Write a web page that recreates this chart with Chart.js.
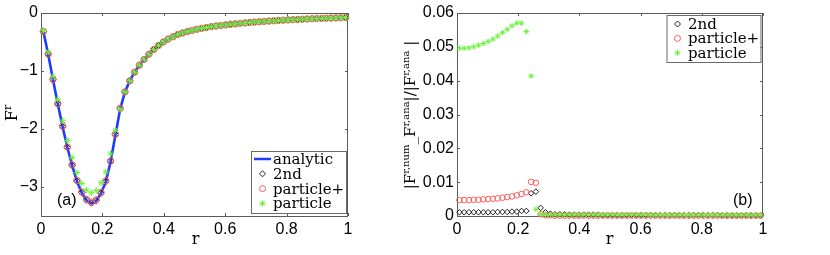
<!DOCTYPE html>
<html>
<head>
<meta charset="utf-8">
<script src="https://cdn.jsdelivr.net/npm/chart.js@4.4.0/dist/chart.umd.min.js"></script>
<style>
  html, body { margin: 0; padding: 0; background: #fff; }
  #wrap { position: relative; width: 830px; height: 255px; overflow: hidden; }
  canvas { position: absolute; top: 0; }
</style>
</head>
<body>
<div id="wrap">
  <canvas id="chartA" width="395" height="255" style="left:0px"></canvas>
  <canvas id="chartB" width="435" height="255" style="left:395px"></canvas>
</div>
<script>
// --- data ---
const rValues = [0.0078, 0.0234, 0.0391, 0.0547, 0.0703, 0.0859, 0.1016, 0.1172, 0.1328, 0.1484,
  0.1641, 0.1797, 0.1953, 0.2109, 0.2266, 0.2422, 0.2578, 0.2734, 0.2891, 0.3047,
  0.3203, 0.3359, 0.3516, 0.3672, 0.3828, 0.3984, 0.4141, 0.4297, 0.4453, 0.4609,
  0.4766, 0.4922, 0.5078, 0.5234, 0.5391, 0.5547, 0.5703, 0.5859, 0.6016, 0.6172,
  0.6328, 0.6484, 0.6641, 0.6797, 0.6953, 0.7109, 0.7266, 0.7422, 0.7578, 0.7734,
  0.7891, 0.8047, 0.8203, 0.8359, 0.8516, 0.8672, 0.8828, 0.8984, 0.9141, 0.9297,
  0.9453, 0.9609, 0.9766, 0.9922];

// (a) force F^r
const analyticF = [-0.32, -0.71, -1.15, -1.57, -1.96, -2.32, -2.63, -2.90, -3.10, -3.23,
  -3.28, -3.24, -3.11, -2.91, -2.57, -2.11, -1.66, -1.36, -1.17, -1.02,
  -0.90, -0.80, -0.71, -0.63, -0.56, -0.50, -0.45, -0.41, -0.37, -0.345,
  -0.32, -0.30, -0.28, -0.265, -0.25, -0.235, -0.225, -0.215, -0.205, -0.195,
  -0.187, -0.179, -0.171, -0.164, -0.157, -0.151, -0.145, -0.139, -0.134, -0.129,
  -0.124, -0.119, -0.115, -0.111, -0.107, -0.103, -0.099, -0.096, -0.093, -0.090,
  -0.087, -0.084, -0.081, -0.078];
const secondF = [-0.32, -0.709, -1.149, -1.568, -1.958, -2.317, -2.627, -2.897, -3.096, -3.226,
  -3.276, -3.236, -3.106, -2.906, -2.553, -2.096, -1.648, -1.357, -1.169, -1.019,
  -0.90, -0.80, -0.71, -0.63, -0.56, -0.50, -0.45, -0.41, -0.37, -0.345,
  -0.32, -0.30, -0.28, -0.265, -0.25, -0.235, -0.225, -0.215, -0.205, -0.195,
  -0.187, -0.179, -0.171, -0.164, -0.157, -0.151, -0.145, -0.139, -0.134, -0.129,
  -0.124, -0.119, -0.115, -0.111, -0.107, -0.103, -0.099, -0.096, -0.093, -0.090,
  -0.087, -0.084, -0.081, -0.078];
const particlePlusF = [-0.318, -0.707, -1.145, -1.562, -1.95, -2.309, -2.617, -2.885, -3.084, -3.212,
  -3.262, -3.221, -3.092, -2.892, -2.553, -2.089, -1.644, -1.36, -1.17, -1.02,
  -0.90, -0.80, -0.71, -0.63, -0.56, -0.50, -0.45, -0.41, -0.37, -0.345,
  -0.32, -0.30, -0.28, -0.265, -0.25, -0.235, -0.225, -0.215, -0.205, -0.195,
  -0.187, -0.179, -0.171, -0.164, -0.157, -0.151, -0.145, -0.139, -0.134, -0.129,
  -0.124, -0.119, -0.115, -0.111, -0.107, -0.103, -0.099, -0.096, -0.093, -0.090,
  -0.087, -0.084, -0.081, -0.078];
const particleF = [-0.304, -0.675, -1.093, -1.49, -1.86, -2.20, -2.49, -2.75, -2.94, -3.05,
  -3.10, -3.06, -2.93, -2.74, -2.43, -2.02, -1.66, -1.36, -1.17, -1.02,
  -0.90, -0.80, -0.71, -0.63, -0.56, -0.50, -0.45, -0.41, -0.37, -0.345,
  -0.32, -0.30, -0.28, -0.265, -0.25, -0.235, -0.225, -0.215, -0.205, -0.195,
  -0.187, -0.179, -0.171, -0.164, -0.157, -0.151, -0.145, -0.139, -0.134, -0.129,
  -0.124, -0.119, -0.115, -0.111, -0.107, -0.103, -0.099, -0.096, -0.093, -0.090,
  -0.087, -0.084, -0.081, -0.078];

// (b) relative error
const secondErr = [0.0011, 0.0011, 0.0011, 0.0011, 0.0011, 0.0011, 0.0011, 0.0011, 0.0012, 0.0012,
  0.0012, 0.0013, 0.0013, 0.0015, 0.0015, 0.0067, 0.0072, 0.0024, 0.0011, 0.0007,
  0.0005, 0.0005, 0.0005, 0.0004, 0.0004, 0.0004, 0.0004, 0.0004, 0.0004, 0.0004,
  0.0003, 0.0003, 0.0003, 0.0003, 0.0003, 0.0003, 0.0003, 0.0003, 0.0003, 0.0003,
  0.0003, 0.0003, 0.0003, 0.0003, 0.0003, 0.0003, 0.0003, 0.0003, 0.0003, 0.0003,
  0.0003, 0.0003, 0.0003, 0.0003, 0.0003, 0.0002, 0.0002, 0.0002, 0.0002, 0.0002,
  0.0002, 0.0002, 0.0002, 0.0002];
const particlePlusErr = [0.0047, 0.0047, 0.0047, 0.0048, 0.0048, 0.0049, 0.0050, 0.0051, 0.0052, 0.0054,
  0.0056, 0.0058, 0.0061, 0.0065, 0.0070, 0.0101, 0.0098, 0.0005, 0.0002, 0.0002,
  0.0001, 0.0001, 0.0001, 0.0001, 0.0001, 0.0001, 0.0001, 0.0001, 0.0001, 0.0001,
  0.0001, 0.0001, 0.0001, 0.0001, 0.0001, 0.0001, 0.0001, 0.0001, 0.0001, 0.0001,
  0.0001, 0.0001, 0.0001, 0.0001, 0.0001, 0.0001, 0.0001, 0.0001, 0.0001, 0.0001,
  0.0001, 0.0001, 0.0001, 0.0001, 0.0001, 0.0001, 0.0001, 0.0001, 0.0001, 0.0001,
  0.0001, 0.0001, 0.0001, 0.0001];
const particleErr = [0.0496, 0.0496, 0.0497, 0.0500, 0.0505, 0.0510, 0.0516, 0.0523, 0.0532, 0.0542,
  0.0552, 0.0562, 0.0570, 0.0570, 0.0545, 0.0414, 0.0020, 0.0005, 0.0005, 0.0004,
  0.0004, 0.0004, 0.0004, 0.0004, 0.0004, 0.0004, 0.0004, 0.0004, 0.0004, 0.0004,
  0.0004, 0.0004, 0.0004, 0.0004, 0.0004, 0.0004, 0.0004, 0.0004, 0.0004, 0.0004,
  0.0003, 0.0003, 0.0003, 0.0003, 0.0003, 0.0003, 0.0003, 0.0003, 0.0003, 0.0003,
  0.0003, 0.0003, 0.0003, 0.0003, 0.0003, 0.0003, 0.0003, 0.0003, 0.0003, 0.0003,
  0.0003, 0.0003, 0.0003, 0.0003];

const xTicks = [0, 0.2, 0.4, 0.6, 0.8, 1];
const yTicksA = [-3, -2, -1, 0];
const yTicksB = [0, 0.01, 0.02, 0.03, 0.04, 0.05, 0.06];
const legendA = ['analytic', '2nd', 'particle+', 'particle'];
const legendB = ['2nd', 'particle+', 'particle'];

// --- styles ---
const BLUE = '#1d3cff';
const BLACK = '#222222';
const RED = '#ff5a5a';
const GREEN = '#6cf23c';
const AXIS = '#5a5a5a';
const SANS = 'Liberation Sans, Arial, sans-serif';
const SERIF = 'DejaVu Serif, serif';

const pts = (ys) => rValues.map((r, i) => ({ x: r, y: ys[i] }));

function markerSet(style, label, ys, radius, order) {
  return {
    label: label, data: pts(ys), showLine: false, order: order, clip: false,
    pointStyle: style.point, pointRadius: radius, pointHoverRadius: radius,
    pointBorderColor: style.color, pointBackgroundColor: 'rgba(0,0,0,0)',
    pointBorderWidth: 1, borderColor: style.color, backgroundColor: 'rgba(0,0,0,0)'
  };
}

const STYLES = {
  'analytic': { point: 'line', color: BLUE },
  '2nd': { point: 'rectRot', color: BLACK },
  'particle+': { point: 'circle', color: RED },
  'particle': { point: 'star', color: GREEN }
};

function drawLegendMark(ctx, name, x, y) {
  const s = STYLES[name];
  ctx.save();
  ctx.strokeStyle = s.color;
  ctx.lineWidth = 1;
  ctx.beginPath();
  if (s.point === 'line') {
    ctx.lineWidth = 2.5;
    ctx.moveTo(x - 8.5, y); ctx.lineTo(x + 8.5, y);
  } else if (s.point === 'rectRot') {
    ctx.moveTo(x, y - 3); ctx.lineTo(x + 3, y); ctx.lineTo(x, y + 3); ctx.lineTo(x - 3, y); ctx.closePath();
  } else if (s.point === 'circle') {
    ctx.arc(x, y, 3, 0, Math.PI * 2);
  } else {
    const r = 3;
    ctx.moveTo(x - r, y); ctx.lineTo(x + r, y);
    ctx.moveTo(x, y - r); ctx.lineTo(x, y + r);
    const d = r * 0.707;
    ctx.moveTo(x - d, y - d); ctx.lineTo(x + d, y + d);
    ctx.moveTo(x - d, y + d); ctx.lineTo(x + d, y - d);
  }
  ctx.stroke();
  ctx.restore();
}

// rotated label made of normal / superscript pieces
function drawRotatedLabel(ctx, pieces, cx, baseX, size) {
  ctx.save();
  ctx.translate(baseX, cx);
  ctx.rotate(-Math.PI / 2);
  const big = size + 'px ' + SERIF, small = Math.round(size * 0.68) + 'px ' + SERIF;
  let total = 0;
  pieces.forEach(p => { ctx.font = p.sup ? small : big; total += ctx.measureText(p.t).width; });
  let x = -total / 2;
  ctx.fillStyle = '#000';
  ctx.textBaseline = 'alphabetic';
  pieces.forEach(p => {
    ctx.font = p.sup ? small : big;
    ctx.fillText(p.t, x, p.sup ? -6 : 0);
    x += ctx.measureText(p.t).width;
  });
  ctx.restore();
}

const decorPlugin = {
  id: 'decor',
  beforeDatasetsDraw(chart, args, o) {
    const { ctx, chartArea: a, scales } = chart;
    ctx.save();
    ctx.strokeStyle = AXIS;
    ctx.lineWidth = 1;
    ctx.strokeRect(a.left + 0.5, a.top + 0.5, a.right - a.left - 1, a.bottom - a.top);
    ctx.beginPath();
    o.xTicks.forEach(v => {
      const px = Math.round(scales.x.getPixelForValue(v)) + 0.5;
      ctx.moveTo(px, a.bottom); ctx.lineTo(px, a.bottom - 3);
      ctx.moveTo(px, a.top); ctx.lineTo(px, a.top + 3);
    });
    o.yTicks.forEach(v => {
      const py = Math.round(scales.y.getPixelForValue(v)) + 0.5;
      ctx.moveTo(a.left, py); ctx.lineTo(a.left + 3, py);
      ctx.moveTo(a.right, py); ctx.lineTo(a.right - 3, py);
    });
    ctx.stroke();
    ctx.restore();
  },
  afterDatasetsDraw(chart, args, o) {
    const ctx = chart.ctx;
    ctx.save();
    // legend box
    const L = o.legend;
    ctx.fillStyle = '#fff';
    ctx.fillRect(L.x, L.y, L.w, L.h);
    ctx.strokeStyle = '#6a6a6a';
    ctx.lineWidth = 1;
    ctx.strokeRect(L.x + 0.5, L.y + 0.5, L.w, L.h);
    ctx.font = '15px ' + SERIF;
    ctx.fillStyle = '#000';
    ctx.textBaseline = 'alphabetic';
    o.legendNames.forEach((name, i) => {
      const base = L.firstBase + i * L.step;
      drawLegendMark(ctx, name, L.markX, base - 5);
      ctx.fillText(name, L.textX, base);
    });
    // panel tag
    ctx.font = '16px ' + SANS;
    ctx.textBaseline = 'middle';
    ctx.fillText(o.tag.t, o.tag.x, o.tag.y);
    // x title
    ctx.font = '16px ' + SERIF;
    ctx.textBaseline = 'alphabetic';
    ctx.textAlign = 'center';
    ctx.fillText('r', o.xTitle.x, o.xTitle.y);
    ctx.textAlign = 'left';
    ctx.restore();
    drawRotatedLabel(ctx, o.yTitle.pieces, o.yTitle.cy, o.yTitle.x, o.yTitle.size);
  }
};

function makeChart(id, datasets, yMin, yMax, yTicks, yFmt, yWidth, padRight, decor) {
  return new Chart(document.getElementById(id), {
    type: 'scatter',
    data: { datasets: datasets },
    plugins: [decorPlugin],
    options: {
      responsive: false, animation: false, devicePixelRatio: 1,
      layout: { padding: { left: 0, top: 13, right: padRight, bottom: 0 } },
      plugins: { legend: { display: false }, tooltip: { enabled: false }, decor: decor },
      scales: {
        x: {
          type: 'linear', min: 0, max: 1,
          grid: { display: false, drawTicks: false }, border: { display: false },
          afterBuildTicks: s => { s.ticks = xTicks.map(v => ({ value: v })); },
          afterFit: s => { s.height = 39; },
          ticks: { color: '#000', font: { family: SANS, size: 16 }, padding: 4, maxRotation: 0, autoSkip: false,
            callback: v => String(Math.round(v * 10) / 10) }
        },
        y: {
          type: 'linear', min: yMin, max: yMax,
          grid: { display: false, drawTicks: false }, border: { display: false },
          afterBuildTicks: s => { s.ticks = yTicks.map(v => ({ value: v })); },
          afterFit: s => { s.width = yWidth; },
          ticks: { color: '#000', font: { family: SANS, size: 16 }, padding: 3, autoSkip: false, callback: yFmt }
        }
      }
    }
  });
}

// panel (a)
const setA = [
  { label: 'analytic', data: pts(analyticF), showLine: true, order: 4, clip: false,
    borderColor: BLUE, borderWidth: 2.6, pointRadius: 0, pointHoverRadius: 0, tension: 0, fill: false },
  markerSet(STYLES['2nd'], '2nd', secondF, 3.2, 3),
  markerSet(STYLES['particle+'], 'particle+', particlePlusF, 3.2, 2),
  markerSet(STYLES['particle'], 'particle', particleF, 3.2, 1)
];
makeChart('chartA', setA, -3.5, 0, yTicksA,
  v => (v < 0 ? '\u2212' + Math.abs(v) : String(v)), 41, 47, {
    xTicks: xTicks, yTicks: yTicksA, legendNames: legendA,
    legend: { x: 251, y: 151, w: 95, h: 62, markX: 262.5, textX: 273, firstBase: 164, step: 14.8 },
    tag: { t: '(a)', x: 57, y: 201 },
    xTitle: { x: 195.5, y: 244 },
    yTitle: { x: 17, cy: 113, size: 16, pieces: [{ t: 'F' }, { t: 'r', sup: true }] }
  });

// panel (b)
const setB = [
  markerSet(STYLES['2nd'], '2nd', secondErr, 2.8, 3),
  markerSet(STYLES['particle+'], 'particle+', particlePlusErr, 2.8, 2),
  markerSet(STYLES['particle'], 'particle', particleErr, 2.8, 1)
];
makeChart('chartB', setB, 0, 0.06, yTicksB,
  v => (v === 0 ? '0' : v.toFixed(2)), 62, 67, {
    xTicks: xTicks, yTicks: yTicksB, legendNames: legendB,
    legend: { x: 271.5, y: 15, w: 94, h: 47, markX: 282.5, textX: 293, firstBase: 29, step: 14.4 },
    tag: { t: '(b)', x: 338, y: 201 },
    xTitle: { x: 214.5, y: 244 },
    yTitle: { x: 20, cy: 115, size: 15, pieces: [
      { t: '|F' }, { t: 'r,num', sup: true }, { t: '_F' }, { t: 'r,ana', sup: true },
      { t: '|/|F' }, { t: 'r,ana', sup: true }, { t: ' |' }] }
  });
</script>
</body>
</html>
